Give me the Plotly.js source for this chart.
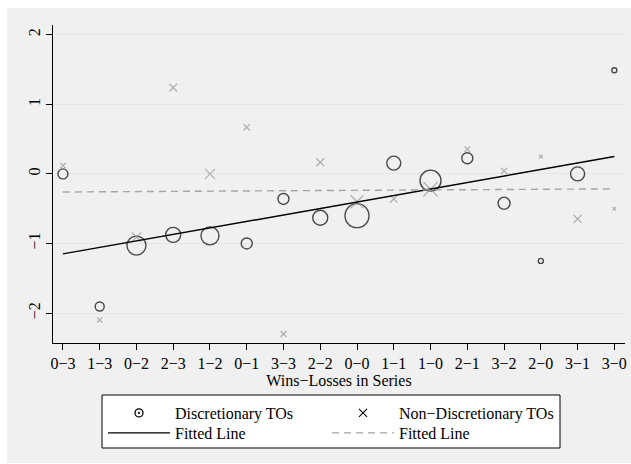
<!DOCTYPE html>
<html><head><meta charset="utf-8">
<script src="https://cdn.plot.ly/plotly-3.0.1.min.js"></script>
<style>html,body{margin:0;padding:0;background:#fff}</style>
</head><body><div id="chart" style="width:631px;height:464px"></div>
<script>
// ---- data ----
const categories = ["0−3","1−3","0−2","2−3","1−2","0−1","3−3","2−2","0−0","1−1","1−0","2−1","3−2","2−0","3−1","3−0"];
const discValues = [0.0, -1.905, -1.03, -0.876, -0.89, -1.0, -0.36, -0.63, -0.60, 0.155, -0.096, 0.225, -0.42, -1.25, 0.0, 1.49];
const discWeights = [10, 9, 19, 15, 18, 11, 11, 15, 24, 14, 21, 11, 12, 5, 14, 5];
const nonDiscValues = [0.12, -2.1, -0.91, 1.24, 0.0, 0.67, -2.30, 0.168, -0.40, -0.36, -0.22, 0.355, 0.043, 0.25, -0.647, -0.50];
const nonDiscWeights = [5.4, 5, 9.3, 7.9, 10, 6.4, 6, 7.9, 12.9, 7.1, 14.3, 5.7, 6.4, 3.6, 7.9, 3.6];
const fitDiscEnds = [-1.15, 0.25];
const fitNonDiscEnds = [-0.26, -0.215];
const legendNames = ["Discretionary TOs", "Non−Discretionary TOs", "Fitted Line", "Fitted Line"];
const xTitle = "Wins−Losses in Series";

// ---- layout helpers (pixel -> paper) ----
const W = 631, H = 464, L = 53, R = 6, T = 25, B = 121;
const pw = W - L - R, ph = H - T - B;
const px = x => (x - L) / pw;
const py = y => (H - B - y) / ph;

const FONT = "Liberation Serif, Times New Roman, serif";
const GRAY = "rgb(150,150,150)";
const ends = [categories[0], categories[categories.length - 1]];

const traces = [
  {type:"scatter", mode:"markers", x:[null], y:[null], name:legendNames[0], legend:"legend",
   marker:{symbol:"circle-open-dot", size:8, color:"black", line:{width:1.3, color:"black"}}},
  {type:"scatter", mode:"markers", x:[null], y:[null], name:legendNames[1], legend:"legend2",
   marker:{symbol:"x-thin-open", size:8, color:"black", line:{width:1.1, color:"black"}}},
  {type:"scatter", mode:"markers", x:categories, y:discValues, showlegend:false,
   marker:{symbol:"circle-open", size:discWeights, color:"black", line:{width:1.4, color:"black"}}},
  {type:"scatter", mode:"markers", x:categories, y:nonDiscValues, showlegend:false,
   marker:{symbol:"x-thin-open", size:nonDiscWeights, color:GRAY, line:{width:1.3, color:GRAY}}},
  {type:"scatter", mode:"lines", x:ends, y:fitDiscEnds, name:legendNames[2], legend:"legend3",
   line:{color:"black", width:1.4}},
  {type:"scatter", mode:"lines", x:ends, y:fitNonDiscEnds, name:legendNames[3], legend:"legend4",
   line:{color:"rgb(165,165,165)", width:1.4, dash:"7px,5px"}}
];

function leg(xpix, rowCenter) {
  return {orientation:"v", x:px(xpix), y:py(rowCenter - 17), xanchor:"left", yanchor:"top",
          bgcolor:"rgba(0,0,0,0)", borderwidth:0, itemwidth:62,
          font:{family:FONT, size:16, color:"black"}, itemclick:false};
}

const layout = {
  width:W, height:H,
  margin:{l:L, r:R, t:T, b:B, pad:0},
  paper_bgcolor:"white", plot_bgcolor:"white",
  font:{family:FONT, size:16, color:"black"},
  showlegend:true,
  legend:leg(103, 413),
  legend2:leg(327, 413),
  legend3:leg(103, 433),
  legend4:leg(327, 433),
  xaxis:{type:"category", categoryorder:"array", categoryarray:categories,
         range:[-0.27, 15.29], showline:true, linecolor:"black", linewidth:1,
         ticks:"outside", ticklen:6, tickcolor:"black", tickwidth:1,
         showgrid:false, zeroline:false, fixedrange:true,
         tickfont:{family:FONT, size:16, color:"black"},
         title:{text:xTitle, standoff:0, font:{family:FONT, size:16, color:"black"}}},
  yaxis:{range:[-2.43, 2.14], tickvals:[-2,-1,0,1,2], showline:true, linecolor:"black",
         linewidth:1, ticks:"outside", ticklen:6, tickcolor:"black", tickwidth:1,
         showgrid:true, gridcolor:"#e6e6e6", gridwidth:1, zeroline:false,
         tickangle:-90, fixedrange:true,
         tickfont:{family:FONT, size:16, color:"black"}},
  shapes:[
    {type:"rect", xref:"paper", yref:"paper", x0:px(7), x1:px(631), y0:py(463), y1:py(8),
     fillcolor:"#f0f0f0", line:{width:0}, layer:"below"},
    {type:"rect", xref:"paper", yref:"paper", x0:px(102), x1:px(560), y0:py(448), y1:py(395),
     fillcolor:"white", line:{width:1, color:"black"}, layer:"below"}
  ]
};

Plotly.newPlot("chart", traces, layout, {displayModeBar:false, staticPlot:true});
</script></body></html>
